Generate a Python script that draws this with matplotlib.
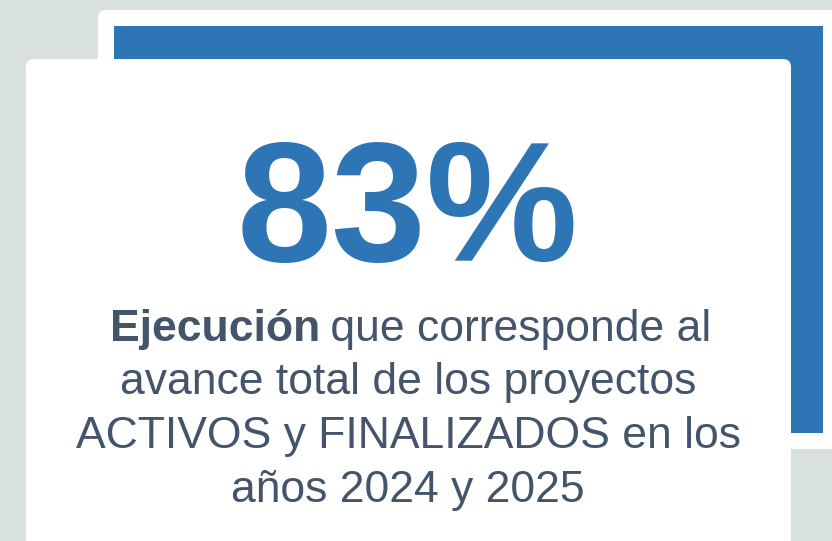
import matplotlib
matplotlib.use("Agg")
import matplotlib.pyplot as plt
from matplotlib.patches import FancyBboxPatch, Rectangle

# content
big_value = "83%"
bold_word = "Ejecución"
first_line_rest = " que corresponde al"
other_lines = [
    "avance total de los proyectos",
    "ACTIVOS y FINALIZADOS en los",
    "años 2024 y 2025",
]

BLUE = "#2E75B6"
TEXT = "#44546A"
BG = "#D9E1DE"

W, H = 832, 541
fig = plt.figure(figsize=(W / 100, H / 100), dpi=100)
fig.patch.set_facecolor(BG)
ax = fig.add_axes([0, 0, 1, 1])
ax.set_xlim(0, W)
ax.set_ylim(H, 0)
ax.axis("off")

# back white card
ax.add_patch(FancyBboxPatch((98, 10), 800, 439,
                            boxstyle="round,pad=0,rounding_size=8",
                            fc="white", ec="none", zorder=1))
# blue frame
ax.add_patch(Rectangle((114, 26), 709, 407, fc=BLUE, ec="none", zorder=2))
# front white card
ax.add_patch(FancyBboxPatch((26, 59), 765, 560,
                            boxstyle="round,pad=0,rounding_size=8",
                            fc="white", ec="none", zorder=3))

cx = 408
font = "Liberation Sans"

ax.text(cx, 261, big_value, color=BLUE, fontsize=123, fontweight="bold",
        family=font, ha="center", va="baseline", zorder=4)

# first line: bold word + regular rest, centred together
fig.canvas.draw()
r = fig.canvas.get_renderer()
t1 = ax.text(0, 341, bold_word, color=TEXT, fontsize=32, fontweight="bold",
             family=font, ha="left", va="baseline", zorder=4)
t2 = ax.text(0, 341, first_line_rest, color=TEXT, fontsize=32,
             family=font, ha="left", va="baseline", zorder=4)
w1 = t1.get_window_extent(r).width
w2 = t2.get_window_extent(r).width
x0 = cx + 4 - (w1 + w2) / 2
t1.set_x(x0)
t2.set_x(x0 + w1 - 3)

for i, line in enumerate(other_lines):
    ax.text(cx, 394 + 54 * i, line, color=TEXT, fontsize=32,
            family=font, ha="center", va="baseline", zorder=4)

fig.savefig("out.png", dpi=100, facecolor=BG)
